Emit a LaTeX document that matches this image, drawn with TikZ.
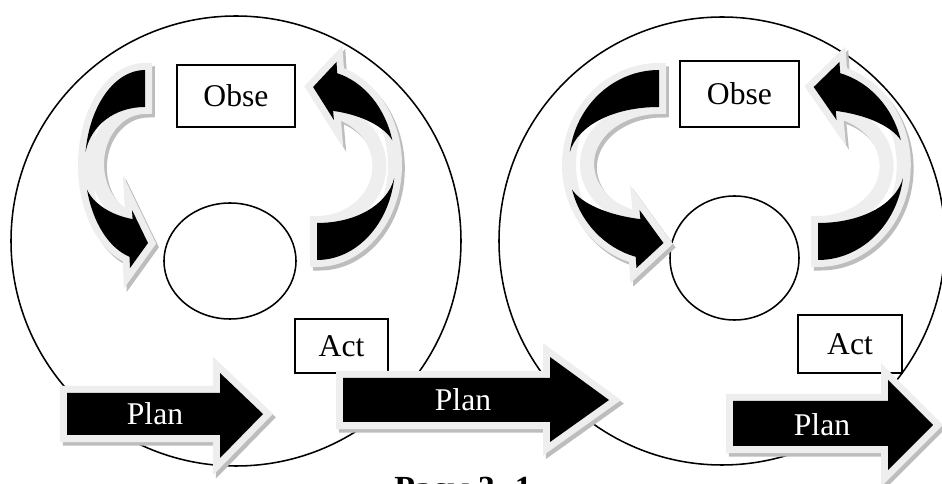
\documentclass[tikz,border=0pt]{standalone}
\usepackage{fontspec}
\setmainfont{Liberation Serif}
\definecolor{cHalo}{HTML}{EEEEEE}
\definecolor{cShade}{HTML}{BDBDBD}
% outline of one bent arrow, tail at the origin
\newcommand{\loopshape}{(0,0) arc[start angle=270,end angle=105,x radius=60,y radius=95] -- (-15,198) -- (3,173) -- (-13,140) -- (-12.4,149.1) arc[start angle=105,end angle=270,x radius=48,y radius=57] -- cycle}
\newcommand{\planshape}{(\xa,\ya) -- (\xb,\ya) -- (\xb,\ha) -- (\xc,\ym) -- (\xb,\hb) -- (\xb,\yb) -- (\xa,\yb) -- cycle}
\tikzset{
  box/.style={draw, line width=1.2pt, inner sep=0pt},
  dropshade/.style={draw=cShade, fill=cShade, line width=0.35cm, transform canvas={shift={(2pt,-2.5pt)}}},
  glow/.style={draw=cHalo, fill=white, line width=0.35cm},
  bentarrow/.pic={
    \filldraw[dropshade] \loopshape;
    \filldraw[glow] \loopshape;
    \fill (0,0) arc[start angle=270,end angle=188,x radius=60,y radius=95] .. controls (-54,55) and (-30,37) .. (0,37) -- cycle;
    \fill (-57.96,119.6) arc[start angle=165,end angle=105,x radius=60,y radius=95] -- (-15,198) -- (3,173) -- (-13,140) -- (-12.4,149.1) .. controls (-35,145) and (-52,133) .. (-57.96,119.6) -- cycle;
  }
}

\begin{document}
\begin{tikzpicture}[x=0.025cm, y=-0.025cm, every node/.style={font=\fontsize{22.5}{27}\selectfont}]
  \useasboundingbox (0,0) rectangle (942,484);
  % the two cycles
  \draw[line width=1.1pt] (236,241) circle[radius=225];
  \draw[line width=1.1pt] (722,241) ellipse[x radius=223, y radius=224];
  \draw[line width=1.1pt] (230,261) ellipse[x radius=66, y radius=58];
  \draw[line width=1.1pt] (734.5,258) ellipse[x radius=64.5, y radius=62];

  \node[box, minimum width=2.95cm, minimum height=1.55cm] (obse1) at (236,96) {Obse};
  \node[box, minimum width=2.975cm, minimum height=1.65cm] (obse2) at (739.5,94) {Obse};
  \node[box, minimum width=2.325cm, minimum height=1.35cm] (act1) at (341.5,346) {Act};
  \node[box, minimum width=2.6cm, minimum height=1.45cm] (act2) at (850,344) {Act};

  \foreach \px/\py/\rot/\sx in {145/70/0/1, 317/260/180/1.3, 659/70/0/1.5, 818/260/180/1.43}
    \pic[rotate=\rot, xscale=\sx] at (\px,\py) {bentarrow};

  % Plan arrows
  \foreach \xa/\xb/\xc/\ya/\yb/\ha/\hb/\ym/\tx/\nm in {67/220/263/393/435/373/458/414/155/planA, 343/550/609/378/422/357/442/400/463/planB, 733/888/933/401/446/380/470/425/822/planC}
  {
    \filldraw[dropshade] \planshape;
    \filldraw[glow] \planshape;
    \fill \planshape;
    \node[text=white] (\nm) at (\tx,\ym) {Plan};
  }

  \node[font=\bfseries\fontsize{24}{28}\selectfont, anchor=north, inner sep=0pt] (caption) at (463,477) {Расм 3. 1};
\end{tikzpicture}
\end{document}
